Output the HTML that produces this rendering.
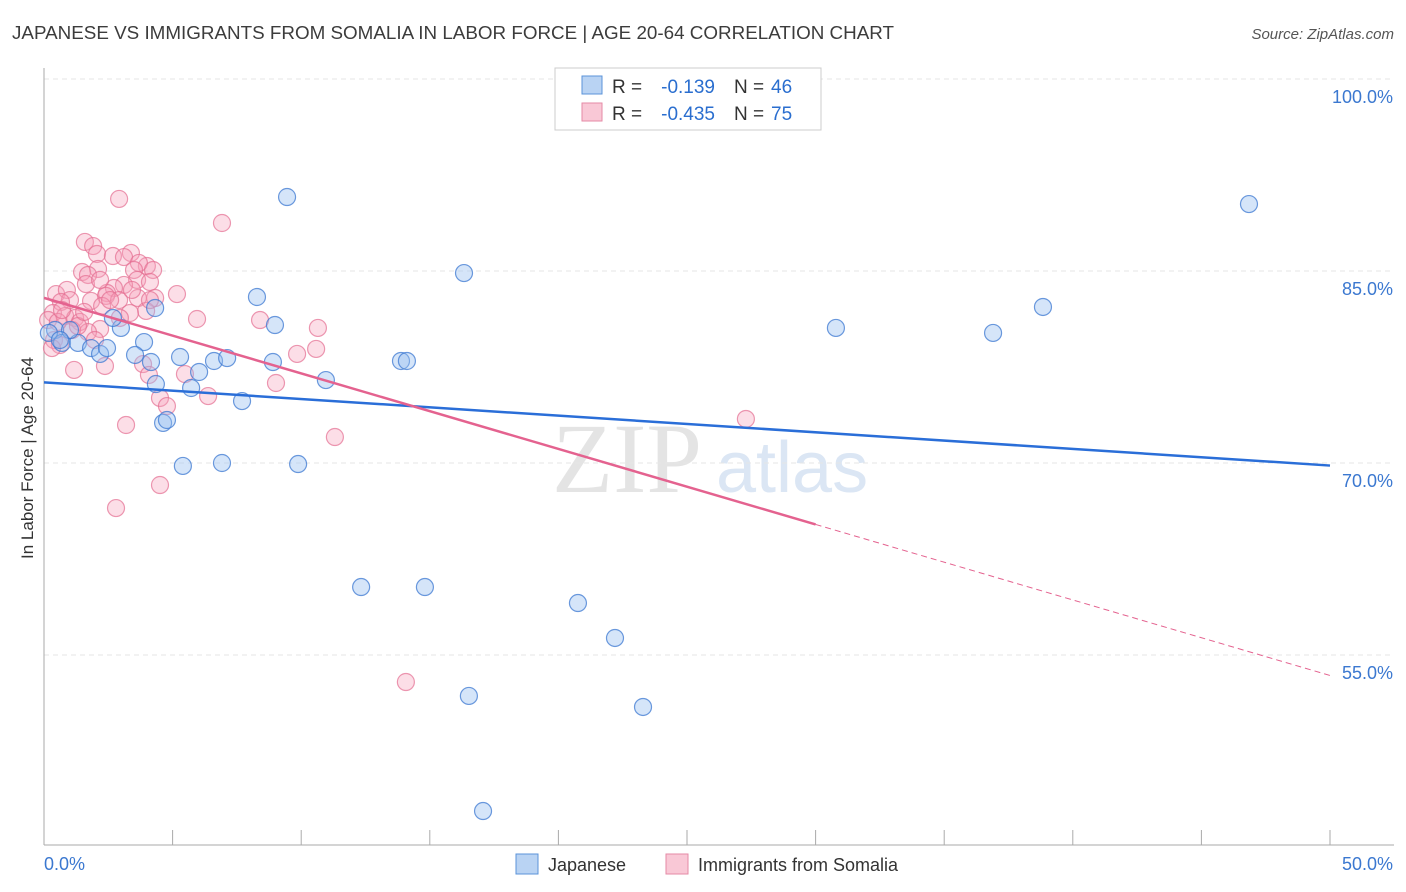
<!DOCTYPE html>
<html><head><meta charset="utf-8"><style>
body{margin:0;background:#fff;font-family:"Liberation Sans",sans-serif;}
</style></head><body>
<svg id="chart" width="1406" height="892" style="display:block">
<text x="12" y="39" font-size="18" fill="#3c3c3c" textLength="882" lengthAdjust="spacingAndGlyphs">JAPANESE VS IMMIGRANTS FROM SOMALIA IN LABOR FORCE | AGE 20-64 CORRELATION CHART</text>
<text x="1394" y="39" font-size="15" fill="#555" font-style="italic" text-anchor="end">Source: ZipAtlas.com</text>
<text x="33" y="458" font-size="17" fill="#333" text-anchor="middle" transform="rotate(-90 33 458)">In Labor Force | Age 20-64</text>
<text x="552" y="492" font-size="100" fill="#e4e4e4" font-family="Liberation Serif,serif">ZIP</text>
<text x="716" y="492" font-size="72" fill="#dbe6f4">atlas</text>
<g id="grid"></g><g id="axes"></g><g id="pts"></g><g id="lines"></g>
<g>
<rect x="555" y="68" width="266" height="62" fill="#fff" stroke="#ccc"/>
<rect x="582" y="76" width="20" height="18" fill="#b9d3f3" stroke="#5b93d8"/>
<rect x="582" y="103" width="20" height="18" fill="#f9c8d6" stroke="#e58aa6"/>
<text x="612" y="93" font-size="19" fill="#333">R =</text>
<text x="715" y="93" font-size="19" fill="#2a6ecf" text-anchor="end">-0.139</text>
<text x="734" y="93" font-size="19" fill="#333">N =</text>
<text x="771" y="93" font-size="19" fill="#2a6ecf">46</text>
<text x="612" y="120" font-size="19" fill="#333">R =</text>
<text x="715" y="120" font-size="19" fill="#2a6ecf" text-anchor="end">-0.435</text>
<text x="734" y="120" font-size="19" fill="#333">N =</text>
<text x="771" y="120" font-size="19" fill="#2a6ecf">75</text>
</g>
<g>
<rect x="516" y="854" width="22" height="20" fill="#b9d3f3" stroke="#5b93d8"/>
<text x="548" y="871" font-size="18" fill="#333">Japanese</text>
<rect x="666" y="854" width="22" height="20" fill="#f9c8d6" stroke="#e58aa6"/>
<text x="698" y="871" font-size="18" fill="#333">Immigrants from Somalia</text>
</g>
</svg>
<script>
const yTicks=[100,85,70,55];
const xTickLabels=["0.0%","50.0%"];
const bluePx=[[287,197],[1249,204],[464,273],[257,297],[1043,307],[836,328],[993,333],[275,325],[121,328],[113,318],[155,308],[55,330],[49,333],[62,343],[78,343],[91,348],[100,354],[107,348],[144,342],[135,355],[151,362],[180,357],[214,361],[227,358],[273,362],[401,361],[407,361],[199,372],[326,380],[156,384],[191,388],[242,401],[163,423],[167,420],[183,466],[222,463],[298,464],[361,587],[425,587],[578,603],[615,638],[469,696],[643,707],[483,811],[70,330],[60,340]];
const pinkPx=[[119,199],[222,223],[85,242],[93,246],[97,254],[131,253],[113,256],[124,257],[147,266],[139,263],[98,269],[134,270],[153,270],[82,272],[88,275],[137,280],[150,282],[86,284],[124,285],[114,288],[107,293],[177,294],[56,294],[67,290],[106,296],[138,298],[155,298],[70,300],[61,302],[91,301],[119,300],[102,306],[146,311],[130,313],[53,313],[65,316],[75,318],[80,322],[197,319],[260,320],[318,328],[100,329],[88,332],[72,330],[54,340],[60,345],[95,340],[52,348],[316,349],[297,354],[143,364],[105,366],[74,370],[185,374],[149,375],[276,383],[208,396],[160,398],[167,406],[126,425],[335,437],[746,419],[160,485],[116,508],[406,682],[48,320],[58,322],[62,310],[78,326],[110,300],[132,290],[150,300],[120,318],[84,312],[100,280]];
const japaneseX=bluePx.map(p=>+((p[0]-44)/1286*50).toFixed(2));
const japaneseY=bluePx.map(p=>+(100-(p[1]-79)/12.8).toFixed(2));
const somaliaX=pinkPx.map(p=>+((p[0]-44)/1286*50).toFixed(2));
const somaliaY=pinkPx.map(p=>+(100-(p[1]-79)/12.8).toFixed(2));
const blueTrend=[[0,76.3],[50,69.8]];
const pinkTrend=[[0,82.9],[30,65.2],[50,53.4]];

const NS="http://www.w3.org/2000/svg";
const sx=v=>44+v/50*1286, sy=v=>79+(100-v)*12.8;
function mk(t,a,parent){const e=document.createElementNS(NS,t);for(const k in a)e.setAttribute(k,a[k]);document.getElementById(parent).appendChild(e);return e;}
yTicks.forEach(t=>{
 const l=mk('line',{x1:44,x2:1394,y1:sy(t),y2:sy(t),stroke:'#e6e6e6','stroke-dasharray':'5,4'},'grid');
 
 
 const tx=mk('text',{x:1393,y:sy(t)+24,'font-size':18,fill:'#3b78d0','text-anchor':'end'},'axes');
 tx.textContent=t.toFixed(1)+'%';
 
 
});
const ya=mk('line',{x1:44,x2:44,y1:68,y2:845,stroke:'#aaa'},'axes');


const xa=mk('line',{x1:44,x2:1394,y1:845,y2:845,stroke:'#aaa'},'axes');


for(let i=0;i<=10;i++){const tk=mk('line',{x1:sx(i*5),x2:sx(i*5),y1:830,y2:845,stroke:'#aaa'},'axes');
 
 }
[[xTickLabels[0],44,'start'],[xTickLabels[1],1393,'end']].forEach(([s,x,a])=>{const t=mk('text',{x:x,y:870,'font-size':18,fill:'#3b78d0','text-anchor':a},'axes');t.textContent=s;
 
 });
somaliaX.forEach((x,i)=>{const c=mk('circle',{cx:sx(x),cy:sy(somaliaY[i]),r:8.5,fill:'rgba(245,160,185,0.35)',stroke:'rgba(228,110,145,0.7)','stroke-width':1.2},'pts');
 
 });
japaneseX.forEach((x,i)=>{const c=mk('circle',{cx:sx(x),cy:sy(japaneseY[i]),r:8.5,fill:'rgba(150,190,240,0.4)',stroke:'rgba(60,120,210,0.75)','stroke-width':1.2},'pts');
 
 });
const bl=mk('line',{x1:sx(blueTrend[0][0]),y1:sy(blueTrend[0][1]),x2:sx(blueTrend[1][0]),y2:sy(blueTrend[1][1]),stroke:'#2a6ed8','stroke-width':2.5},'lines');


const pl=mk('line',{x1:sx(pinkTrend[0][0]),y1:sy(pinkTrend[0][1]),x2:sx(pinkTrend[1][0]),y2:sy(pinkTrend[1][1]),stroke:'#e4628f','stroke-width':2.5},'lines');


const pd=mk('line',{x1:sx(pinkTrend[1][0]),y1:sy(pinkTrend[1][1]),x2:sx(pinkTrend[2][0]),y2:sy(pinkTrend[2][1]),stroke:'#e4628f','stroke-width':1,'stroke-dasharray':'6,4'},'lines');


</script>
</body></html>
